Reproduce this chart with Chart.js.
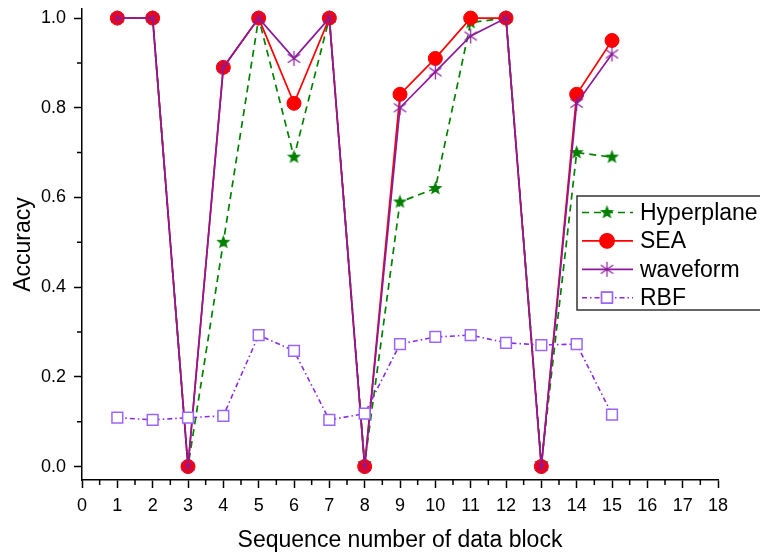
<!DOCTYPE html>
<html>
<head>
<meta charset="utf-8">
<script src="https://cdn.jsdelivr.net/npm/chart.js@4"></script>
<style>
  html, body { margin: 0; padding: 0; background: #fff; }
  #wrap { width: 760px; height: 554px; }
</style>
</head>
<body>
<div id="wrap"><canvas id="chart" width="760" height="554"></canvas></div>
<script>
const blocks = [1, 2, 3, 4, 5, 6, 7, 8, 9, 10, 11, 12, 13, 14, 15];
const hyperplane = [1.0, 1.0, 0.0, 0.5, 1.0, 0.69, 1.0, 0.007, 0.59, 0.62, 0.99, 1.0, 0.007, 0.70, 0.69];
const sea = [1.0, 1.0, 0.0, 0.89, 1.0, 0.81, 1.0, 0.0, 0.83, 0.91, 1.0, 1.0, 0.0, 0.83, 0.95];
const waveform = [1.0, 1.0, 0.0, 0.89, 1.0, 0.91, 1.0, 0.0, 0.80, 0.88, 0.96, 1.0, 0.0, 0.81, 0.92];
const rbf = [0.109, 0.104, 0.109, 0.113, 0.293, 0.258, 0.104, 0.118, 0.273, 0.289, 0.293, 0.276, 0.271, 0.273, 0.116];

const xTicks = [0, 1, 2, 3, 4, 5, 6, 7, 8, 9, 10, 11, 12, 13, 14, 15, 16, 17, 18];
const yTicks = [0.0, 0.2, 0.4, 0.6, 0.8, 1.0];

const FONT = "'Liberation Sans', Arial, sans-serif";

function toPoints(vals) {
  return blocks.map((x, i) => ({ x: x, y: vals[i] }));
}

// filled 5-point star marker
function makeStar(color, r) {
  const c = document.createElement("canvas");
  const s = Math.ceil(r * 2 + 4);
  c.width = s; c.height = s;
  const ctx = c.getContext("2d");
  ctx.beginPath();
  for (let i = 0; i < 10; i++) {
    const rr = i % 2 === 0 ? r : r * 0.42;
    const a = -Math.PI / 2 + i * Math.PI / 5;
    ctx.lineTo(s / 2 + rr * Math.cos(a), s / 2 + rr * Math.sin(a));
  }
  ctx.closePath();
  ctx.fillStyle = color;
  ctx.fill();
  return c;
}

// 6-arm asterisk marker
function makeAsterisk(color, r) {
  const c = document.createElement("canvas");
  const s = Math.ceil(r * 2 + 4);
  c.width = s; c.height = s;
  const ctx = c.getContext("2d");
  ctx.strokeStyle = color;
  ctx.lineWidth = 1.2;
  ctx.beginPath();
  [90, 35, -35].forEach(deg => {
    const a = deg * Math.PI / 180;
    ctx.moveTo(s / 2 - r * Math.cos(a), s / 2 - r * Math.sin(a));
    ctx.lineTo(s / 2 + r * Math.cos(a), s / 2 + r * Math.sin(a));
  });
  ctx.stroke();
  return c;
}

const starImg = makeStar("#008000", 7.5);
const asteriskImg = makeAsterisk("#8b1a9b", 7.5);

// short minor ticks between the labelled ones
const minorTicks = {
  id: "minorTicks",
  afterDraw(chart) {
    const ctx = chart.ctx;
    const x = chart.scales.x, y = chart.scales.y;
    const area = chart.chartArea;
    ctx.save();
    ctx.strokeStyle = "#000";
    ctx.lineWidth = 1.5;
    ctx.beginPath();
    for (let v = 0.5; v < 18; v += 1) {
      const px = x.getPixelForValue(v);
      ctx.moveTo(px, area.bottom);
      ctx.lineTo(px, area.bottom + 5);
    }
    for (let v = 0.1; v < 1.0; v += 0.2) {
      const py = y.getPixelForValue(v);
      ctx.moveTo(area.left, py);
      ctx.lineTo(area.left - 5, py);
    }
    ctx.stroke();
    ctx.restore();
  }
};

// boxed legend inside the plot, like the original figure
const boxLegend = {
  id: "boxLegend",
  afterDraw(chart) {
    const ctx = chart.ctx;
    const left = 577, top = 196, rowH = 28.4;
    ctx.save();
    ctx.fillStyle = "#fff";
    ctx.fillRect(left, top, 200, 114);
    ctx.strokeStyle = "#333";
    ctx.lineWidth = 1.5;
    ctx.strokeRect(left, top, 200, 114);
    chart.data.datasets.forEach((ds, i) => {
      const cy = top + 16.5 + i * rowH;
      ctx.strokeStyle = ds.borderColor;
      ctx.lineWidth = ds.borderWidth;
      ctx.setLineDash(ds.borderDash || []);
      ctx.beginPath();
      ctx.moveTo(left + 5, cy);
      ctx.lineTo(left + 56, cy);
      ctx.stroke();
      ctx.setLineDash([]);
      const mx = left + 30;
      if (ds.pointStyle instanceof HTMLCanvasElement) {
        ctx.drawImage(ds.pointStyle, mx - ds.pointStyle.width / 2, cy - ds.pointStyle.height / 2);
      } else {
        Chart.helpers.drawPoint(ctx, {
          pointStyle: ds.pointStyle,
          radius: ds.pointRadius,
          borderWidth: ds.pointBorderWidth
        }, mx, cy);
        ctx.fillStyle = ds.pointBackgroundColor;
        ctx.strokeStyle = ds.pointBorderColor;
        ctx.lineWidth = ds.pointBorderWidth;
        ctx.fill();
        ctx.stroke();
      }
      ctx.fillStyle = "#000";
      ctx.font = "23px " + FONT;
      ctx.textBaseline = "middle";
      ctx.fillText(ds.label, left + 63, cy + 1);
    });
    ctx.restore();
  }
};

new Chart(document.getElementById("chart"), {
  type: "line",
  data: {
    datasets: [
      {
        label: "Hyperplane",
        data: toPoints(hyperplane),
        borderColor: "#008000",
        borderWidth: 1.7,
        borderDash: [7, 5],
        pointStyle: starImg,
        order: 3
      },
      {
        label: "SEA",
        data: toPoints(sea),
        borderColor: "#ff0000",
        borderWidth: 1.7,
        pointStyle: "circle",
        pointRadius: 7,
        pointBackgroundColor: "#ff0000",
        pointBorderColor: "#ff0000",
        pointBorderWidth: 1,
        order: 2
      },
      {
        label: "waveform",
        data: toPoints(waveform),
        borderColor: "#8b1a9b",
        borderWidth: 1.7,
        pointStyle: asteriskImg,
        order: 1
      },
      {
        label: "RBF",
        data: toPoints(rbf),
        borderColor: "#8a2be2",
        borderWidth: 1.6,
        borderDash: [5, 3, 1.5, 3],
        pointStyle: "rect",
        pointRadius: 7.6,
        pointBackgroundColor: "#ffffff",
        pointBorderColor: "#9b66ff",
        pointBorderWidth: 1.5,
        order: 0
      }
    ]
  },
  options: {
    responsive: false,
    animation: false,
    events: [],
    layout: { padding: { left: 0, right: 42, top: 8, bottom: 0 } },
    plugins: {
      legend: { display: false },
      tooltip: { enabled: false }
    },
    scales: {
      x: {
        type: "linear",
        min: 0,
        max: 18,
        afterBuildTicks: s => { s.ticks = xTicks.map(v => ({ value: v })); },
        afterFit: s => { s.height = 74; s.paddingLeft = 0; s.paddingRight = 0; },
        grid: { display: true, drawOnChartArea: false, drawTicks: true, tickLength: 8, tickWidth: 1.5, color: "#000" },
        border: { display: true, color: "#000", width: 1.5 },
        ticks: {
          color: "#000",
          padding: 7,
          font: { family: FONT, size: 18 },
          callback: v => String(v)
        },
        title: {
          display: true,
          text: "Sequence number of data block",
          color: "#000",
          font: { family: FONT, size: 23 },
          padding: { top: 6, bottom: 0 }
        }
      },
      y: {
        type: "linear",
        min: -0.03,
        max: 1.02,
        afterBuildTicks: s => { s.ticks = yTicks.map(v => ({ value: v })); },
        afterFit: s => { s.width = 82; s.paddingTop = 0; s.paddingBottom = 0; },
        grid: { display: true, drawOnChartArea: false, drawTicks: true, tickLength: 8, tickWidth: 1.5, color: "#000" },
        border: { display: true, color: "#000", width: 1.5 },
        ticks: {
          color: "#000",
          padding: 8,
          font: { family: FONT, size: 18 },
          callback: v => v.toFixed(1)
        },
        title: {
          display: true,
          text: "Accuracy",
          color: "#000",
          font: { family: FONT, size: 23 },
          padding: { top: 10, bottom: 4 }
        }
      }
    }
  },
  plugins: [minorTicks, boxLegend]
});
</script>
</body>
</html>
